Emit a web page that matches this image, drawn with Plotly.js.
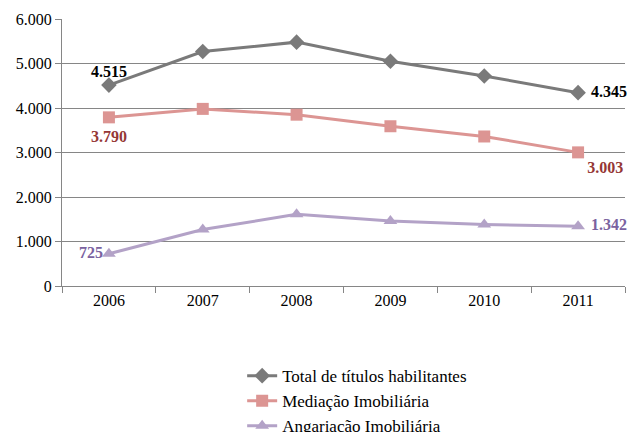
<!DOCTYPE html>
<html>
<head>
<meta charset="utf-8">
<script src="https://cdn.plot.ly/plotly-3.0.1.min.js"></script>
<style>html,body{margin:0;padding:0;background:#fff;}#chart{width:633px;height:432px;}</style>
</head>
<body>
<div id="chart"></div>
<script>
const years = ['2006', '2007', '2008', '2009', '2010', '2011'];
const seriesNames = ['Total de títulos habilitantes', 'Mediação Imobiliária', 'Angariação Imobiliária'];
const totalValues = [4515, 5270, 5480, 5050, 4720, 4345];
const mediacaoValues = [3790, 3980, 3850, 3590, 3360, 3003];
const angariacaoValues = [725, 1270, 1610, 1460, 1380, 1342];
const yTickValues = [0, 1000, 2000, 3000, 4000, 5000, 6000];
const yTickLabels = ['0', '1.000', '2.000', '3.000', '4.000', '5.000', '6.000'];

function fmt(v) {
  return String(v).replace(/\B(?=(\d{3})+(?!\d))/g, '.');
}

const FONT = 'Liberation Serif';

// pad: invisible marker sizes that set how far each data label sits from its point
const styles = [
  {color: '#7a7a7a', symbol: 'diamond', size: 12, label: '#000000', pos: ['top center', 'middle right'], pad: [5, 19]},
  {color: '#dc9593', symbol: 'square', size: 12, label: '#953735', pos: ['bottom center', 'bottom right'], pad: [18, 13]},
  {color: '#b3a2c7', symbol: 'triangle-up', size: 12, label: '#7a62a0', pos: ['middle left', 'middle right'], pad: [8, 19]}
];
const allValues = [totalValues, mediacaoValues, angariacaoValues];

const lineTraces = allValues.map((vals, i) => ({
  x: years,
  y: vals,
  name: seriesNames[i],
  type: 'scatter',
  mode: 'lines+markers',
  line: {color: styles[i].color, width: 3},
  marker: {color: styles[i].color, symbol: styles[i].symbol, size: styles[i].size},
  hoverinfo: 'skip'
}));

// data labels for first and last points
const labelTraces = allValues.map((vals, i) => {
  const n = vals.length - 1;
  return {
    x: [years[0], years[n]],
    y: [vals[0], vals[n]],
    text: [fmt(vals[0]), fmt(vals[n])],
    type: 'scatter',
    mode: 'markers+text',
    textposition: styles[i].pos,
    textfont: {family: FONT, size: 16, color: styles[i].label, weight: 'bold'},
    marker: {size: styles[i].pad, color: 'rgba(0,0,0,0)', line: {width: 0}},
    showlegend: false,
    hoverinfo: 'skip',
    cliponaxis: false
  };
});

const layout = {
  width: 633,
  height: 432,
  margin: {l: 62, r: 8, t: 19, b: 146, autoexpand: false},
  paper_bgcolor: '#ffffff',
  plot_bgcolor: '#ffffff',
  font: {family: FONT, size: 16, color: '#000000'},
  showlegend: true,
  legend: {
    orientation: 'v',
    x: 0.32, xanchor: 'left',
    y: -0.27, yanchor: 'top',
    font: {family: FONT, size: 17, color: '#000000'},
    tracegroupgap: 0
  },
  xaxis: {
    type: 'category',
    tickson: 'boundaries',
    ticks: 'outside',
    ticklen: 6,
    tickcolor: '#868686',
    showline: true,
    linecolor: '#868686',
    linewidth: 1,
    showgrid: false,
    zeroline: false,
    tickfont: {family: FONT, size: 16, color: '#000000'},
    range: [-0.5, 5.5]
  },
  yaxis: {
    range: [0, 6000],
    tickvals: yTickValues,
    ticktext: yTickLabels,
    ticks: 'outside',
    ticklen: 6,
    tickcolor: '#868686',
    showline: true,
    linecolor: '#868686',
    showgrid: true,
    gridcolor: '#868686',
    gridwidth: 1,
    zeroline: false,
    tickfont: {family: FONT, size: 16, color: '#000000'}
  }
};

Plotly.newPlot('chart', lineTraces.concat(labelTraces), layout, {displayModeBar: false});
</script>
</body>
</html>
